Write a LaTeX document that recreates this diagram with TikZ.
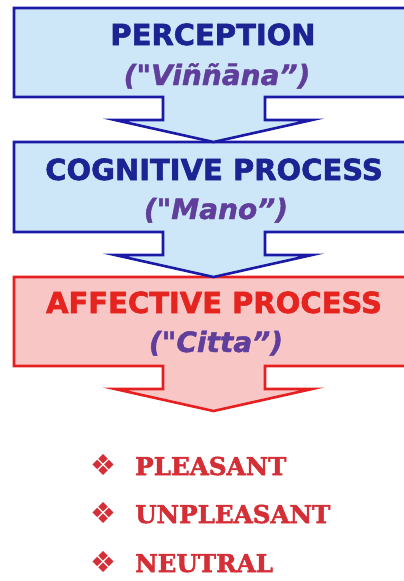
\documentclass[tikz,border=0pt]{standalone}
\usepackage{fontspec}
\setmainfont{DejaVu Sans}
\newfontfamily\headfont[FakeBold=2]{DejaVu Sans Bold}
\newfontfamily\subfont[FakeBold=1.5]{DejaVu Sans Bold Oblique}
\newfontfamily\listfont[FakeBold=2]{DejaVu Serif Bold}
\newfontfamily\symfont{DejaVu Sans}
\definecolor{bluefill}{HTML}{CDE7F8}
\definecolor{blueline}{HTML}{1A1AA6}
\definecolor{bluetext}{HTML}{1C2494}
\definecolor{subtext}{HTML}{603E9C}
\definecolor{redfill}{HTML}{F9C6C6}
\definecolor{redline}{HTML}{E62020}
\definecolor{redtext}{HTML}{E52420}
\definecolor{listtext}{HTML}{D42E36}
\tikzset{
  bluebox/.style={fill=bluefill, draw=blueline, line width=2.6pt, line join=miter},
  redbox/.style={fill=redfill, draw=redline, line width=2.6pt, line join=miter},
  title/.style={font=\headfont\fontsize{29}{30}\selectfont, inner sep=0pt, anchor=base},
  subtitle/.style={font=\subfont\fontsize{28}{28}\selectfont, text=subtext, inner sep=0pt, anchor=base},
  item/.style={font=\listfont\fontsize{24.6}{28}\selectfont, text=listtext, inner sep=0pt, anchor=base west},
  bullet/.style={font=\symfont\fontsize{29}{30}\selectfont, text=listtext, inner sep=0pt, anchor=base west}
}
\newcommand{\callout}[3]{% style, top, bottom
  \draw[#1] (14,#2) -- (430,#2) -- (430,#3) -- (265,#3) -- (265,#3+23) -- (312,#3+23)
    -- (213.5,#3+45) -- (115,#3+23) -- (163,#3+23) -- (163,#3) -- (14,#3) -- cycle;}
\begin{document}
\begin{tikzpicture}[x=1pt,y=-1pt]
\useasboundingbox (0,0) rectangle (404,581);
\clip (0,0) rectangle (404,581);
\fill[white] (0,0) rectangle (404,581);
% callout shapes (box + down arrow), drawn bottom first
\callout{redbox}{277}{366}
\callout{bluebox}{142}{232}
\callout{bluebox}{8}{97}
% texts
\node[title, text=bluetext] (perc) at (213,45) {PERCEPTION};
\node[subtitle] (percsub) at (217,85) {("Viññāna”)};
\node[title, text=bluetext] (cog) at (214,180) {COGNITIVE PROCESS};
\node[subtitle] (cogsub) at (216,219) {("Mano”)};
\node[title, text=redtext] (aff) at (214,313) {AFFECTIVE PROCESS};
\node[subtitle] (affsub) at (216,352) {("Citta”)};
% list
\node[bullet] (b1) at (90,475) {❖};
\node[item] (pleasant) at (135,475) {PLEASANT};
\node[bullet] (b2) at (90,523) {❖};
\node[item] (unpleasant) at (135,523) {UNPLEASANT};
\node[bullet] (b3) at (90,572) {❖};
\node[item] (neutral) at (135,572) {NEUTRAL};
\end{tikzpicture}
\end{document}
